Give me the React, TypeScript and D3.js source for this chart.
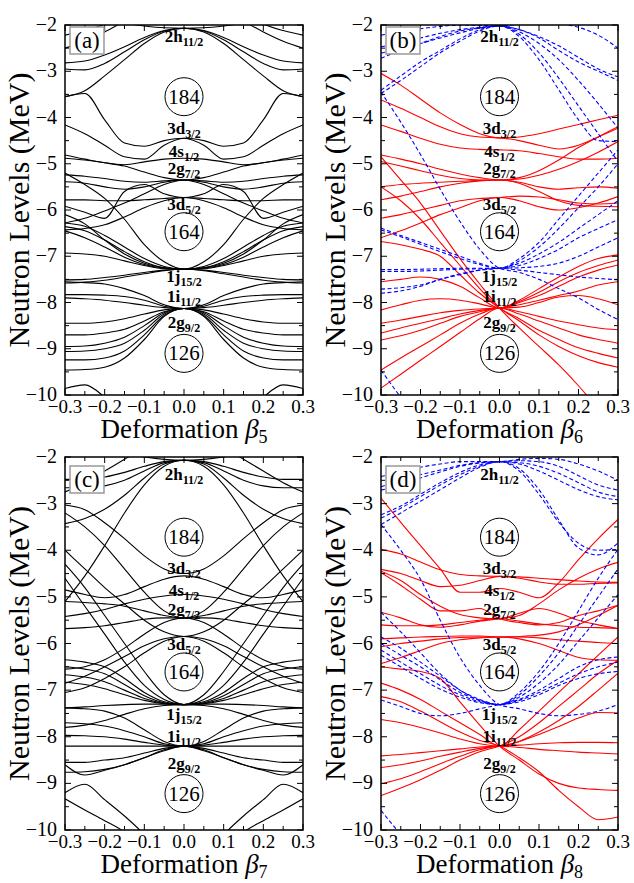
import React from 'react';
import * as d3 from 'd3';

const W = 634;
const H = 883;
const FONT = '"Liberation Serif", "Times New Roman", serif';

// deformation grid shared by every level (beta = -0.3 ... 0.3)
const betas = [-0.3, -0.25, -0.2, -0.15, -0.1, -0.05, 0, 0.05, 0.1, 0.15, 0.2, 0.25, 0.3];

// (a) beta5 levels, MeV
const levelsBeta5 = [
  [-2.82, -2.78, -2.65, -2.47, -2.27, -2.12, -2.07, -2.12, -2.27, -2.47, -2.65, -2.78, -2.82],
  [-2.95, -2.97, -2.83, -2.58, -2.32, -2.13, -2.07, -2.13, -2.32, -2.58, -2.83, -2.97, -2.95],
  [-3.55, -3.42, -3.1, -2.75, -2.4, -2.15, -2.07, -2.15, -2.4, -2.75, -3.1, -3.42, -3.55],
  [-1.75, -1.8, -1.88, -1.96, -2.02, -2.06, -2.07, -2.06, -2.02, -1.96, -1.88, -1.8, -1.75],
  [-2.5, -2.35, -2.15, -1.92, -1.7, -1.55, -1.5, -1.55, -1.7, -1.92, -2.15, -2.35, -2.5],
  [-2.22, -2.12, -1.98, -1.75, -1.5, -1.35, -1.3, -1.35, -1.5, -1.75, -1.98, -2.12, -2.22],
  [-3.55, -3.48, -4.05, -4.55, -4.62, -4.5, -4.45, -4.5, -4.62, -4.55, -4.05, -3.48, -3.55],
  [-4.16, -4.35, -4.6, -4.85, -4.9, -4.6, -4.45, -4.6, -4.9, -4.85, -4.6, -4.35, -4.16],
  [-4.81, -4.9, -4.98, -5.02, -4.96, -4.9, -4.88, -4.9, -4.96, -5.02, -4.98, -4.9, -4.81],
  [-4.88, -4.92, -4.98, -5.05, -5.18, -5.3, -5.35, -5.3, -5.18, -5.05, -4.98, -4.92, -4.88],
  [-5.24, -5.27, -5.32, -5.38, -5.4, -5.37, -5.35, -5.37, -5.4, -5.38, -5.32, -5.27, -5.24],
  [-5.39, -5.42, -5.5, -5.55, -5.5, -5.4, -5.35, -5.4, -5.5, -5.55, -5.5, -5.42, -5.39],
  [-6.28, -6.18, -6.02, -5.85, -5.65, -5.45, -5.35, -5.45, -5.65, -5.85, -6.02, -6.18, -6.28],
  [-5.92, -6.05, -6.18, -5.6, -5.45, -5.65, -5.73, -5.65, -5.45, -5.6, -6.18, -6.05, -5.92],
  [-5.78, -5.78, -5.8, -5.8, -5.78, -5.75, -5.73, -5.75, -5.78, -5.8, -5.8, -5.78, -5.78],
  [-6.43, -6.4, -6.32, -6.15, -5.95, -5.8, -5.73, -5.8, -5.95, -6.15, -6.32, -6.4, -6.43],
  [-5.2, -5.45, -5.75, -6.2, -6.75, -7.12, -7.28, -7.12, -6.75, -6.2, -5.75, -5.45, -5.2],
  [-6.28, -6.35, -6.55, -6.8, -7.05, -7.22, -7.28, -7.22, -7.05, -6.8, -6.55, -6.35, -6.28],
  [-6.36, -6.45, -6.65, -6.9, -7.12, -7.25, -7.28, -7.25, -7.12, -6.9, -6.65, -6.45, -6.36],
  [-6.45, -6.6, -6.8, -7.02, -7.18, -7.26, -7.28, -7.26, -7.18, -7.02, -6.8, -6.6, -6.45],
  [-6.93, -6.95, -7.0, -7.1, -7.2, -7.27, -7.28, -7.27, -7.2, -7.1, -7.0, -6.95, -6.93],
  [-7.51, -7.5, -7.46, -7.41, -7.35, -7.3, -7.28, -7.3, -7.35, -7.41, -7.46, -7.5, -7.51],
  [-7.58, -7.56, -7.52, -7.45, -7.38, -7.31, -7.28, -7.31, -7.38, -7.45, -7.52, -7.56, -7.58],
  [-6.1, -6.3, -6.65, -6.95, -7.15, -7.25, -7.28, -7.25, -7.15, -6.95, -6.65, -6.3, -6.1],
  [-7.55, -7.57, -7.6, -7.7, -7.85, -8.05, -8.13, -8.05, -7.85, -7.7, -7.6, -7.57, -7.55],
  [-7.83, -7.83, -7.84, -7.87, -7.95, -8.08, -8.13, -8.08, -7.95, -7.87, -7.84, -7.83, -7.83],
  [-7.9, -7.92, -7.95, -8.0, -8.06, -8.11, -8.13, -8.11, -8.06, -8.0, -7.95, -7.92, -7.9],
  [-8.45, -8.45, -8.42, -8.35, -8.25, -8.16, -8.13, -8.16, -8.25, -8.35, -8.42, -8.45, -8.45],
  [-8.7, -8.7, -8.66, -8.58, -8.4, -8.2, -8.13, -8.2, -8.4, -8.58, -8.66, -8.7, -8.7],
  [-8.95, -8.94, -8.88, -8.75, -8.5, -8.22, -8.13, -8.22, -8.5, -8.75, -8.88, -8.94, -8.95],
  [-9.06, -9.05, -9.0, -8.88, -8.6, -8.25, -8.13, -8.25, -8.6, -8.88, -9.0, -9.05, -9.06],
  [-9.24, -9.24, -9.2, -9.05, -8.7, -8.28, -8.13, -8.28, -8.7, -9.05, -9.2, -9.24, -9.24],
  [-9.46, -9.45, -9.4, -9.2, -8.8, -8.3, -8.13, -8.3, -8.8, -9.2, -9.4, -9.45, -9.46],
  [-9.86, -9.78, -10.05, -10.5, -10.8, -11, -11, -11, -10.8, -10.5, -10.05, -9.78, -9.86],
];

// (b) beta6, positive parity (red) and negative parity (blue)
const levelsBeta6Pos = [
  [-3.05, -3.3, -3.6, -3.9, -4.15, -4.35, -4.44, -4.42, -4.35, -4.25, -4.15, -4.05, -3.95],
  [-3.62, -3.8, -4.0, -4.2, -4.35, -4.42, -4.44, -4.5, -4.6, -4.68, -4.6, -4.42, -4.23],
  [-4.16, -4.3, -4.45, -4.58, -4.66, -4.69, -4.7, -4.72, -4.78, -4.85, -4.9, -4.9, -4.88],
  [-4.81, -4.9, -5.0, -5.12, -5.22, -5.3, -5.35, -5.3, -5.15, -4.92, -4.65, -4.42, -4.2],
  [-4.95, -5.05, -5.15, -5.25, -5.32, -5.35, -5.35, -5.33, -5.25, -5.12, -4.95, -4.75, -4.52],
  [-5.5, -5.45, -5.42, -5.4, -5.38, -5.36, -5.35, -5.4, -5.5, -5.55, -5.52, -5.5, -5.53],
  [-5.78, -5.7, -5.6, -5.5, -5.42, -5.37, -5.35, -5.42, -5.6, -5.8, -5.9, -5.92, -5.93],
  [-6.18, -6.1, -6.0, -5.9, -5.8, -5.75, -5.73, -5.7, -5.72, -5.78, -5.85, -5.87, -5.85],
  [-6.6, -6.45, -6.28, -6.1, -5.95, -5.8, -5.73, -5.8, -5.93, -6.0, -5.95, -5.85, -5.71],
  [-4.85, -5.35, -5.85, -6.45, -7.05, -7.6, -8.12, -8.55, -8.95, -9.35, -9.8, -10.3, -10.8],
  [-5.5, -5.8, -6.2, -6.7, -7.2, -7.7, -8.12, -8.35, -8.6, -8.8, -8.98, -9.1, -9.2],
  [-7.55, -7.5, -7.45, -7.5, -7.65, -7.9, -8.12, -7.95, -7.7, -7.45, -7.22, -7.05, -6.97],
  [-8.16, -8.05, -7.95, -7.92, -7.95, -8.03, -8.12, -7.98, -7.78, -7.55, -7.35, -7.2, -7.08],
  [-8.45, -8.38, -8.3, -8.22, -8.17, -8.14, -8.12, -8.0, -7.85, -7.65, -7.45, -7.3, -7.19],
  [-8.66, -8.55, -8.45, -8.35, -8.25, -8.17, -8.12, -8.05, -7.95, -7.85, -7.75, -7.62, -7.55],
  [-8.81, -8.72, -8.6, -8.45, -8.3, -8.2, -8.12, -8.1, -8.0, -7.88, -7.85, -7.92, -8.05],
  [-9.46, -9.2, -8.95, -8.7, -8.45, -8.25, -8.12, -8.2, -8.3, -8.4, -8.48, -8.55, -8.59],
  [-9.85, -9.55, -9.25, -8.95, -8.65, -8.35, -8.12, -8.25, -8.4, -8.55, -8.7, -8.8, -8.88],
  [-6.68, -6.75, -6.85, -7.0, -7.4, -7.8, -8.12, -8.4, -8.7, -8.95, -9.15, -9.3, -9.4],
  [-1.5, -1.55, -1.6, -1.65, -1.7, -1.78, -1.85, -1.9, -1.93, -1.95, -1.95, -1.93, -1.9],
];
const levelsBeta6Neg = [
  [-2.22, -2.15, -2.08, -2.03, -2.0, -2.01, -2.02, -1.98, -1.95, -1.97, -2.05, -2.22, -2.5],
  [-2.47, -2.38, -2.28, -2.18, -2.1, -2.05, -2.02, -2.1, -2.25, -2.45, -2.7, -2.95, -3.12],
  [-2.61, -2.5, -2.4, -2.28, -2.17, -2.07, -2.02, -2.15, -2.4, -2.75, -3.2, -3.7, -4.23],
  [-3.41, -3.1, -2.8, -2.55, -2.3, -2.1, -2.02, -2.2, -2.6, -3.15, -3.75, -4.35, -4.95],
  [-3.48, -3.2, -2.9, -2.6, -2.35, -2.13, -2.02, -2.25, -2.75, -3.4, -4.05, -4.5, -4.52],
  [-2.72, -2.55, -2.4, -2.25, -2.13, -2.06, -2.02, -2.1, -2.28, -2.55, -2.8, -3.0, -3.2],
  [-3.45, -4.1, -4.8, -5.55, -6.25, -6.85, -7.26, -7.35, -7.5, -7.7, -7.9, -8.15, -8.37],
  [-7.29, -7.29, -7.28, -7.27, -7.26, -7.26, -7.26, -7.3, -7.35, -7.4, -7.45, -7.48, -7.51],
  [-7.33, -7.33, -7.32, -7.3, -7.28, -7.27, -7.26, -7.2, -7.05, -6.85, -6.6, -6.4, -6.21],
  [-7.71, -7.68, -7.62, -7.5, -7.4, -7.3, -7.26, -7.15, -6.95, -6.7, -6.4, -6.1, -5.8],
  [-6.39, -6.55, -6.7, -6.85, -7.0, -7.15, -7.26, -7.1, -6.8, -6.4, -5.95, -5.5, -5.0],
  [-6.43, -6.58, -6.74, -6.9, -7.05, -7.18, -7.26, -7.05, -6.7, -6.2, -5.7, -5.2, -4.7],
  [-7.8, -7.75, -7.65, -7.5, -7.38, -7.3, -7.26, -7.25, -7.22, -7.15, -7.0, -6.8, -6.6],
  [-9.46, -10.05, -10.6, -11, -11.3, -11.5, -11.6, -11.7, -11.8, -11.9, -12, -12, -12],
];

// (c) beta7 levels
const levelsBeta7 = [
  [-2.48, -2.48, -2.43, -2.33, -2.2, -2.1, -2.07, -2.1, -2.2, -2.33, -2.43, -2.48, -2.48],
  [-2.66, -2.66, -2.62, -2.5, -2.3, -2.12, -2.07, -2.12, -2.3, -2.5, -2.62, -2.66, -2.66],
  [-3.43, -3.32, -3.12, -2.82, -2.45, -2.15, -2.07, -2.15, -2.45, -2.82, -3.12, -3.32, -3.43],
  [-1.76, -1.8, -1.86, -1.93, -2.0, -2.05, -2.07, -2.05, -2.0, -1.93, -1.86, -1.8, -1.76],
  [-5.1, -4.55, -3.9, -3.2, -2.6, -2.2, -2.07, -2.2, -2.6, -3.2, -3.9, -4.55, -5.1],
  [-2.75, -2.55, -2.3, -2.05, -1.8, -1.6, -1.5, -1.6, -1.8, -2.05, -2.3, -2.55, -2.75],
  [-3.03, -3.13, -3.41, -3.75, -4.12, -4.4, -4.5, -4.4, -4.12, -3.75, -3.41, -3.13, -3.03],
  [-4.85, -4.95, -5.02, -4.95, -4.78, -4.62, -4.55, -4.62, -4.78, -4.95, -5.02, -4.95, -4.85],
  [-5.42, -5.36, -5.27, -5.15, -5.05, -4.98, -4.95, -4.98, -5.05, -5.15, -5.27, -5.36, -5.42],
  [-5.1, -5.12, -5.15, -5.2, -5.3, -5.4, -5.45, -5.4, -5.3, -5.2, -5.15, -5.12, -5.1],
  [-5.68, -5.66, -5.62, -5.55, -5.48, -5.45, -5.45, -5.45, -5.48, -5.55, -5.62, -5.66, -5.68],
  [-3.2, -3.5, -3.9, -4.4, -4.9, -5.3, -5.45, -5.3, -4.9, -4.4, -3.9, -3.5, -3.2],
  [-6.55, -6.5, -6.35, -6.1, -5.8, -5.55, -5.45, -5.55, -5.8, -6.1, -6.35, -6.5, -6.55],
  [-6.85, -6.7, -6.5, -6.28, -6.05, -5.9, -5.85, -5.9, -6.05, -6.28, -6.5, -6.7, -6.85],
  [-4.0, -4.4, -4.8, -5.15, -5.5, -5.75, -5.85, -5.75, -5.5, -5.15, -4.8, -4.4, -4.0],
  [-7.05, -6.95, -6.75, -6.5, -6.2, -5.95, -5.85, -5.95, -6.2, -6.5, -6.75, -6.95, -7.05],
  [-4.6, -5.2, -5.8, -6.4, -6.9, -7.2, -7.31, -7.2, -6.9, -6.4, -5.8, -5.2, -4.6],
  [-6.35, -6.4, -6.5, -6.75, -7.05, -7.25, -7.31, -7.25, -7.05, -6.75, -6.5, -6.4, -6.35],
  [-6.5, -6.55, -6.65, -6.88, -7.12, -7.27, -7.31, -7.27, -7.12, -6.88, -6.65, -6.55, -6.5],
  [-6.67, -6.72, -6.82, -7.0, -7.18, -7.28, -7.31, -7.28, -7.18, -7.0, -6.82, -6.72, -6.67],
  [-6.83, -6.88, -6.97, -7.1, -7.22, -7.29, -7.31, -7.29, -7.22, -7.1, -6.97, -6.88, -6.83],
  [-4.3, -4.8, -5.4, -6.0, -6.6, -7.1, -7.31, -7.1, -6.6, -6.0, -5.4, -4.8, -4.3],
  [-7.38, -7.36, -7.33, -7.31, -7.3, -7.3, -7.31, -7.3, -7.3, -7.31, -7.33, -7.36, -7.38],
  [-7.8, -7.75, -7.65, -7.52, -7.4, -7.33, -7.31, -7.33, -7.4, -7.52, -7.65, -7.75, -7.8],
  [-7.38, -7.4, -7.45, -7.6, -7.85, -8.1, -8.2, -8.1, -7.85, -7.6, -7.45, -7.4, -7.38],
  [-7.7, -7.72, -7.77, -7.87, -8.0, -8.15, -8.2, -8.15, -8.0, -7.87, -7.77, -7.72, -7.7],
  [-7.97, -7.98, -8.0, -8.05, -8.12, -8.18, -8.2, -8.18, -8.12, -8.05, -8.0, -7.98, -7.97],
  [-8.2, -8.2, -8.2, -8.2, -8.2, -8.2, -8.2, -8.2, -8.2, -8.2, -8.2, -8.2, -8.2],
  [-8.55, -8.55, -8.5, -8.45, -8.35, -8.25, -8.2, -8.25, -8.35, -8.45, -8.5, -8.55, -8.55],
  [-8.76, -8.75, -8.7, -8.6, -8.45, -8.28, -8.2, -8.28, -8.45, -8.6, -8.7, -8.75, -8.76],
  [-8.6, -8.82, -8.72, -8.6, -8.45, -8.3, -8.2, -8.3, -8.45, -8.6, -8.72, -8.82, -8.6],
  [-9.2, -9.02, -9.35, -9.7, -10.1, -10.6, -11, -10.6, -10.1, -9.7, -9.35, -9.02, -9.2],
  [-9.33, -9.57, -9.8, -10.05, -10.5, -11, -11.4, -11, -10.5, -10.05, -9.8, -9.57, -9.33],
];

// (d) beta8, positive parity (red) and negative parity (blue)
const levelsBeta8Pos = [
  [-2.88, -3.4, -3.9, -4.4, -4.9, -4.9, -4.82, -4.9, -5.02, -4.7, -4.2, -3.75, -3.34],
  [-3.98, -4.08, -4.25, -4.42, -4.52, -4.55, -4.56, -4.57, -4.6, -4.63, -4.66, -4.68, -4.69],
  [-4.41, -4.5, -4.65, -4.78, -4.75, -4.65, -4.56, -4.6, -4.68, -4.73, -4.73, -4.71, -4.7],
  [-4.45, -4.65, -4.95, -5.2, -5.38, -5.45, -5.47, -5.35, -5.25, -5.35, -5.5, -5.6, -5.68],
  [-4.48, -4.75, -5.05, -5.3, -5.3, -5.25, -5.47, -5.55, -5.6, -5.55, -5.4, -5.3, -5.18],
  [-5.33, -5.45, -5.6, -5.65, -5.6, -5.52, -5.47, -5.4, -5.15, -4.85, -4.6, -4.4, -4.26],
  [-5.6, -5.62, -5.62, -5.6, -5.55, -5.5, -5.47, -5.52, -5.58, -5.62, -5.65, -5.66, -5.68],
  [-5.9, -5.88, -5.86, -5.85, -5.84, -5.84, -5.86, -5.86, -5.88, -5.92, -5.95, -5.98, -6.0],
  [-6.07, -6.0, -5.95, -5.9, -5.87, -5.86, -5.86, -5.9, -6.0, -6.15, -6.3, -6.35, -6.36],
  [-6.43, -6.3, -6.15, -6.0, -5.92, -5.88, -5.86, -5.85, -5.82, -5.75, -5.6, -5.4, -5.18],
  [-6.5, -6.55, -6.6, -6.75, -7.25, -7.75, -8.2, -8.5, -8.8, -9.0, -9.1, -9.13, -9.15],
  [-7.14, -7.25, -7.45, -7.68, -7.9, -8.08, -8.2, -8.45, -8.75, -9.15, -9.5, -9.78, -9.72],
  [-6.85, -7.0, -7.2, -7.45, -7.7, -7.95, -8.2, -7.85, -7.45, -7.05, -6.65, -6.25, -5.86],
  [-7.63, -7.7, -7.8, -7.92, -8.05, -8.15, -8.2, -8.1, -7.9, -7.65, -7.35, -7.0, -6.64],
  [-8.41, -8.38, -8.34, -8.3, -8.26, -8.22, -8.2, -8.1, -7.95, -7.78, -7.6, -7.48, -7.49],
  [-8.66, -8.6, -8.52, -8.42, -8.33, -8.25, -8.2, -8.18, -8.15, -8.13, -8.12, -8.12, -8.13],
  [-9.01, -8.9, -8.75, -8.58, -8.42, -8.28, -8.2, -8.23, -8.27, -8.3, -8.33, -8.35, -8.37],
  [-9.26, -9.1, -8.92, -8.72, -8.5, -8.32, -8.2, -8.0, -7.7, -7.35, -7.0, -6.65, -6.36],
];
const levelsBeta8Neg = [
  [-2.42, -2.32, -2.22, -2.15, -2.1, -2.1, -2.1, -2.05, -2.03, -2.05, -2.15, -2.3, -2.5],
  [-2.64, -2.5, -2.38, -2.28, -2.18, -2.12, -2.1, -2.08, -2.1, -2.2, -2.4, -2.6, -2.71],
  [-2.71, -2.6, -2.45, -2.32, -2.2, -2.13, -2.1, -2.12, -2.2, -2.35, -2.55, -2.75, -2.85],
  [-3.24, -3.05, -2.8, -2.55, -2.33, -2.17, -2.1, -2.15, -2.3, -2.5, -2.7, -2.85, -2.92],
  [-3.31, -3.1, -2.85, -2.6, -2.38, -2.2, -2.1, -2.25, -2.7, -3.35, -3.95, -4.1, -3.84],
  [-3.45, -3.2, -2.95, -2.7, -2.45, -2.22, -2.1, -2.3, -2.8, -3.4, -3.85, -4.0, -3.98],
  [-3.45, -4.0, -4.62, -5.5, -6.3, -6.9, -7.31, -7.4, -7.5, -7.55, -7.52, -7.45, -7.31],
  [-7.21, -7.35, -7.5, -7.55, -7.5, -7.4, -7.31, -7.2, -7.0, -6.75, -6.5, -6.35, -6.29],
  [-5.86, -6.1, -6.4, -6.7, -7.0, -7.2, -7.31, -7.15, -6.85, -6.45, -5.95, -5.45, -4.95],
  [-6.0, -6.25, -6.5, -6.78, -7.05, -7.22, -7.31, -7.1, -6.7, -6.2, -5.6, -5.0, -4.4],
  [-6.14, -6.4, -6.65, -6.9, -7.1, -7.25, -7.31, -7.05, -6.6, -6.0, -5.3, -4.6, -3.98],
  [-6.25, -6.5, -6.75, -6.98, -7.15, -7.27, -7.31, -7.22, -7.05, -6.85, -6.65, -6.5, -6.4],
  [-5.33, -5.75, -6.2, -6.65, -7.0, -7.22, -7.31, -7.25, -7.1, -6.9, -6.75, -6.65, -6.6],
  [-9.58, -10.1, -10.6, -11, -11.3, -11.5, -11.6, -11.7, -11.8, -11.9, -12, -12, -12],
];

const xTicks = [-0.3, -0.2, -0.1, 0, 0.1, 0.2, 0.3];
const yTicks = [-2, -3, -4, -5, -6, -7, -8, -9, -10];

// spherical shell labels and their label heights (MeV) in upper / lower rows
const shellNames = ['2h', '3d', '4s', '2g', '3d', '1j', '1i', '2g'];
const shellJ = ['11/2', '3/2', '1/2', '7/2', '5/2', '15/2', '11/2', '9/2'];
const shellEUpper = [-2.37, -4.36, -4.85, -5.23, -6.0, -7.55, -7.98, -8.56];
const shellELower = [-2.5, -4.52, -4.98, -5.39, -6.15, -7.65, -8.12, -8.69];
const magicNumbers = ['184', '164', '126'];
const magicEUpper = [-3.55, -6.47, -9.1];
const magicELower = [-3.72, -6.61, -9.22];

const RED = '#ff0000';
const BLUE = '#0000ff';

type Group = { levels: number[][]; color: string; dash?: string };

function Panel({ id, left, top, width, height, tag, sub, groups, shellE, magicE, tagDy }: {
  id: string; left: number; top: number; width: number; height: number; tag: string; sub: string;
  groups: Group[]; shellE: number[]; magicE: number[]; tagDy: number;
}) {
  const x = d3.scaleLinear().domain([-0.3, 0.3]).range([left, left + width]);
  const y = d3.scaleLinear().domain([-10, -2]).range([top + height, top]);
  const line = d3.line<number>()
    .x((_, i) => x(betas[i]))
    .y(d => y(d))
    .curve(d3.curveMonotoneX);

  const minorX = x.ticks(12);
  const minorY = y.ticks(16);
  const cx = x(0);

  return (
    <g>
      <defs>
        <clipPath id={id}>
          <rect x={left} y={top} width={width} height={height} />
        </clipPath>
      </defs>
      <g clipPath={`url(#${id})`}>
        {groups.map((g, gi) =>
          g.levels.map((lv, i) => (
            <path key={`${gi}-${i}`} d={line(lv) || ''} fill="none" stroke={g.color}
              strokeWidth={1.1} strokeDasharray={g.dash} />
          )))}
      </g>

      {/* shell labels */}
      {shellNames.map((n, i) => (
        <text key={n + i} x={cx} y={y(shellE[i])} textAnchor="middle" fontFamily={FONT}
          fontWeight="bold" fontSize={17}>
          {n}<tspan fontSize={12} dy={4}>{shellJ[i]}</tspan>
        </text>
      ))}
      {magicNumbers.map((m, i) => (
        <g key={m}>
          <circle cx={cx} cy={y(magicE[i])} r={19} fill="none" stroke="#000" strokeWidth={1} />
          <text x={cx} y={y(magicE[i]) + 7} textAnchor="middle" fontFamily={FONT} fontSize={21}>{m}</text>
        </g>
      ))}

      {/* frame and ticks */}
      <rect x={left} y={top} width={width} height={height} fill="none" stroke="#000" strokeWidth={1.5} />
      {minorX.map((t, i) => {
        const len = i % 2 === 0 ? 6 : 4;
        return (
          <g key={'x' + i}>
            <line x1={x(t)} x2={x(t)} y1={top + height} y2={top + height - len} stroke="#000" strokeWidth={1} />
            <line x1={x(t)} x2={x(t)} y1={top} y2={top + len} stroke="#000" strokeWidth={1} />
          </g>
        );
      })}
      {minorY.map((t, i) => {
        const len = Number.isInteger(t) ? 6 : 4;
        return (
          <g key={'y' + i}>
            <line x1={left} x2={left + len} y1={y(t)} y2={y(t)} stroke="#000" strokeWidth={1} />
            <line x1={left + width} x2={left + width - len} y1={y(t)} y2={y(t)} stroke="#000" strokeWidth={1} />
          </g>
        );
      })}
      {xTicks.map(t => (
        <text key={'xl' + t} x={x(t)} y={top + height + 18} textAnchor="middle" fontFamily={FONT} fontSize={19}>
          {(t < 0 ? '\u2212' : '') + Math.abs(t).toFixed(1)}
        </text>
      ))}
      {yTicks.map(t => (
        <text key={'yl' + t} x={left - 8} y={y(t) + 6} textAnchor="end" fontFamily={FONT} fontSize={20}>
          {'\u2212' + Math.abs(t)}
        </text>
      ))}
      <text x={left + width / 2} y={top + height + 43} textAnchor="middle" fontFamily={FONT} fontSize={27}>
        Deformation <tspan fontStyle="italic">β</tspan><tspan fontSize={18} dy={5}>{sub}</tspan>
      </text>
      <text transform={`translate(${left - 36},${top + height / 2}) rotate(-90)`} textAnchor="middle"
        fontFamily={FONT} fontSize={30}>
        Neutron Levels (MeV)
      </text>

      {/* panel tag */}
      <rect x={left + 5} y={top + tagDy} width={34} height={27} fill="#fff" stroke="#999" strokeWidth={1.5} />
      <text x={left + 22} y={top + tagDy + 21} textAnchor="middle" fontFamily={FONT} fontSize={23}>{tag}</text>
    </g>
  );
}

export default function App() {
  return (
    <svg width={W} height={H} style={{ position: 'absolute', left: 0, top: 0, background: '#fff' }}>
      <Panel id="pa" left={65} top={25} width={238} height={370} tag="(a)" sub="5" tagDy={2}
        groups={[{ levels: levelsBeta5, color: '#000' }]} shellE={shellEUpper} magicE={magicEUpper} />
      <Panel id="pb" left={381} top={25} width={237} height={370} tag="(b)" sub="6" tagDy={2}
        groups={[{ levels: levelsBeta6Pos, color: RED }, { levels: levelsBeta6Neg, color: BLUE, dash: '4,2.5' }]}
        shellE={shellEUpper} magicE={magicEUpper} />
      <Panel id="pc" left={65} top={457} width={238} height={373} tag="(c)" sub="7" tagDy={9}
        groups={[{ levels: levelsBeta7, color: '#000' }]} shellE={shellELower} magicE={magicELower} />
      <Panel id="pd" left={381} top={457} width={237} height={373} tag="(d)" sub="8" tagDy={9}
        groups={[{ levels: levelsBeta8Pos, color: RED }, { levels: levelsBeta8Neg, color: BLUE, dash: '4,2.5' }]}
        shellE={shellELower} magicE={magicELower} />
    </svg>
  );
}
